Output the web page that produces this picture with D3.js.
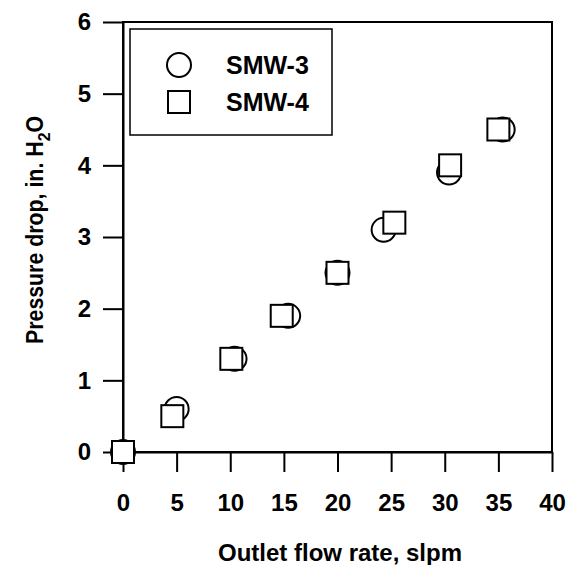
<!DOCTYPE html>
<html>
<head>
<meta charset="utf-8">
<script src="https://cdn.jsdelivr.net/npm/d3@7"></script>
<style>
  body { margin: 0; background: #fff; }
  text { font-family: "Liberation Sans", Arial, sans-serif; font-weight: bold; fill: #000; }
</style>
</head>
<body>
<div id="chart"></div>
<script>
// datos
var series = ["SMW-3", "SMW-4"];
var smw3X = [0, 5, 10.4, 15.4, 20, 24.3, 30.4, 35.4];
var smw3Y = [0, 0.6, 1.3, 1.9, 2.5, 3.1, 3.9, 4.5];
var smw4X = [0, 4.6, 10.1, 14.8, 20, 25.3, 30.5, 35];
var smw4Y = [0, 0.5, 1.3, 1.9, 2.5, 3.2, 4.0, 4.5];
var xTicks = [0, 5, 10, 15, 20, 25, 30, 35, 40];
var yTicks = [0, 1, 2, 3, 4, 5, 6];

var width = 572, height = 565;
var margin = {left: 123, right: 20, top: 22, bottom: 113};

var svg = d3.select("#chart").append("svg")
    .attr("width", width)
    .attr("height", height);

var x = d3.scaleLinear().domain([0, 40]).range([margin.left, width - margin.right]);
var y = d3.scaleLinear().domain([0, 6]).range([height - margin.bottom, margin.top]);

// marco
svg.append("rect")
    .attr("x", x(0)).attr("y", y(6))
    .attr("width", x(40) - x(0)).attr("height", y(0) - y(6))
    .attr("fill", "none").attr("stroke", "#000").attr("stroke-width", 2);

// ejes
var xAxis = svg.append("g")
    .attr("transform", "translate(0," + y(0) + ")")
    .call(d3.axisBottom(x).tickValues(xTicks).tickFormat(d3.format("d"))
        .tickSize(20).tickSizeOuter(0).tickPadding(22));
var yAxis = svg.append("g")
    .attr("transform", "translate(" + x(0) + ",0)")
    .call(d3.axisLeft(y).tickValues(yTicks).tickFormat(d3.format("d"))
        .tickSize(20).tickSizeOuter(0).tickPadding(12));

[xAxis, yAxis].forEach(function(g) {
    g.select(".domain").attr("stroke-width", 2);
    g.selectAll(".tick line").attr("stroke-width", 2);
    g.selectAll(".tick text")
        .style("font-size", "24px")
        .style("font-family", "'Liberation Sans', Arial, sans-serif")
        .style("font-weight", "bold")
        .attr("fill", "#000");
});

// titulos
svg.append("text")
    .attr("x", 340).attr("y", 561)
    .attr("text-anchor", "middle")
    .style("font-size", "24px")
    .text("Outlet flow rate, slpm");

var yt = svg.append("text")
    .attr("transform", "translate(43,230) rotate(-90)")
    .attr("text-anchor", "middle")
    .attr("textLength", 228)
    .attr("lengthAdjust", "spacingAndGlyphs")
    .style("font-size", "23px");
yt.append("tspan").text("Pressure drop, in. H");
yt.append("tspan").attr("dy", 7).style("font-size", "17px").text("2");
yt.append("tspan").attr("dy", -7).text("O");

// puntos
var d3data = smw3X.map(function(v, i) { return {x: v, y: smw3Y[i]}; });
var d4data = smw4X.map(function(v, i) { return {x: v, y: smw4Y[i]}; });

svg.selectAll(".c3").data(d3data).enter().append("circle")
    .attr("class", "c3")
    .attr("cx", function(d) { return x(d.x); })
    .attr("cy", function(d) { return y(d.y); })
    .attr("r", 12)
    .attr("fill", "#fff").attr("stroke", "#000").attr("stroke-width", 2);

var s = 22;
svg.selectAll(".s4").data(d4data).enter().append("rect")
    .attr("class", "s4")
    .attr("x", function(d) { return x(d.x) - s / 2; })
    .attr("y", function(d) { return y(d.y) - s / 2; })
    .attr("width", s).attr("height", s)
    .attr("fill", "#fff").attr("stroke", "#000").attr("stroke-width", 2);

// leyenda
var leg = svg.append("g");
leg.append("rect")
    .attr("x", 130).attr("y", 29).attr("width", 202).attr("height", 106)
    .attr("fill", "#fff").attr("stroke", "#000").attr("stroke-width", 1.5);
leg.append("circle")
    .attr("cx", 179).attr("cy", 65).attr("r", 12)
    .attr("fill", "#fff").attr("stroke", "#000").attr("stroke-width", 2);
leg.append("rect")
    .attr("x", 179 - s / 2).attr("y", 102 - s / 2).attr("width", s).attr("height", s)
    .attr("fill", "#fff").attr("stroke", "#000").attr("stroke-width", 2);
leg.selectAll(".lt").data(series).enter().append("text")
    .attr("class", "lt")
    .attr("x", 226)
    .attr("y", function(d, i) { return 74 + i * 37; })
    .style("font-size", "25px")
    .text(function(d) { return d; });
</script>
</body>
</html>
